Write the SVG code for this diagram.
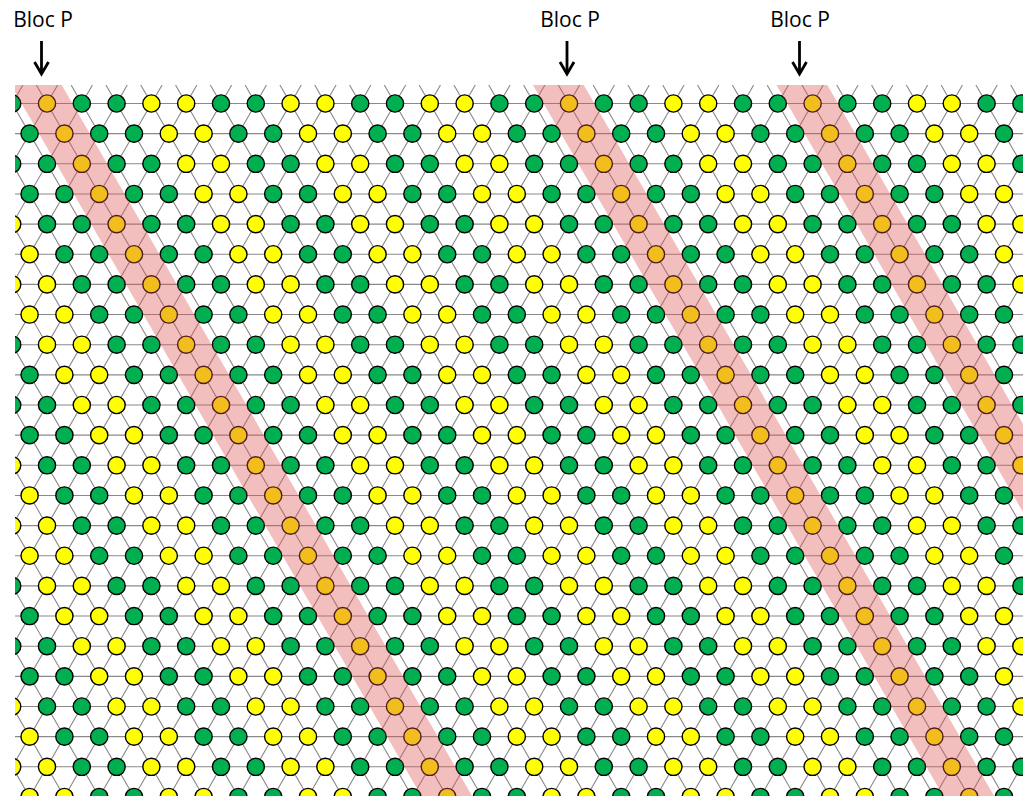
<svg xmlns="http://www.w3.org/2000/svg" width="1023" height="796" viewBox="0 0 1023 796">
<style>
.grid{fill:none;stroke:#8a8a8a;stroke-width:1.1}
.g{fill:#00B050}
.y{fill:#FFFF00}
.band{fill:none;stroke:#DC5050;stroke-opacity:0.37;stroke-width:44}
.lbl{font-family:"Open Sans","Liberation Sans",Arial,sans-serif;font-size:21px;fill:#000;text-anchor:middle}
.arr{stroke:#000;stroke-width:2.8;fill:none}
</style>
<defs>
<clipPath id="clip"><rect x="15" y="85" width="1008" height="711"/></clipPath>
<marker id="head" markerUnits="userSpaceOnUse" markerWidth="20" markerHeight="20" viewBox="0 0 20 20" refX="13" refY="10" orient="auto" overflow="visible">
<path d="M1,3 L13,10 L1,17" fill="none" stroke="#000" stroke-width="2.8" stroke-linejoin="miter"/>
</marker>
<g id="col" stroke="#000" stroke-width="1.4">
<circle cx="0" cy="0" r="8.6"/><circle cx="17.4" cy="30.15" r="8.6"/><circle cx="34.8" cy="60.3" r="8.6"/><circle cx="52.2" cy="90.45" r="8.6"/>
<circle cx="69.6" cy="120.6" r="8.6"/><circle cx="87" cy="150.75" r="8.6"/><circle cx="104.4" cy="180.9" r="8.6"/><circle cx="121.8" cy="211.05" r="8.6"/>
<circle cx="139.2" cy="241.2" r="8.6"/><circle cx="156.6" cy="271.35" r="8.6"/><circle cx="174" cy="301.5" r="8.6"/><circle cx="191.4" cy="331.65" r="8.6"/>
<circle cx="208.8" cy="361.8" r="8.6"/><circle cx="226.2" cy="391.95" r="8.6"/><circle cx="243.6" cy="422.1" r="8.6"/><circle cx="261" cy="452.25" r="8.6"/>
<circle cx="278.4" cy="482.4" r="8.6"/><circle cx="295.8" cy="512.55" r="8.6"/><circle cx="313.2" cy="542.7" r="8.6"/><circle cx="330.6" cy="572.85" r="8.6"/>
<circle cx="348" cy="603" r="8.6"/><circle cx="365.4" cy="633.15" r="8.6"/><circle cx="382.8" cy="663.3" r="8.6"/><circle cx="400.2" cy="693.45" r="8.6"/>
</g>
</defs>
<rect width="1023" height="796" fill="#fff"/>
<g id="lattice" clip-path="url(#clip)">
<g id="connectors">
<path class="grid" d="M15,103.5 h1008 m-1008,30.15 h1008 m-1008,30.15 h1008 m-1008,30.15 h1008 m-1008,30.15 h1008 m-1008,30.15 h1008 m-1008,30.15 h1008 m-1008,30.15 h1008 m-1008,30.15 h1008 m-1008,30.15 h1008 m-1008,30.15 h1008 m-1008,30.15 h1008 m-1008,30.15 h1008 m-1008,30.15 h1008 m-1008,30.15 h1008 m-1008,30.15 h1008 m-1008,30.15 h1008 m-1008,30.15 h1008 m-1008,30.15 h1008 m-1008,30.15 h1008 m-1008,30.15 h1008 m-1008,30.15 h1008 m-1008,30.15 h1008"/>
<path class="grid" d="M-381.28,85 l410.33,711 m-375.53,-711 l410.33,711 m-375.53,-711 l410.33,711 m-375.53,-711 l410.33,711 m-375.53,-711 l410.33,711 m-375.53,-711 l410.33,711 m-375.53,-711 l410.33,711 m-375.53,-711 l410.33,711 m-375.53,-711 l410.33,711 m-375.53,-711 l410.33,711 m-375.53,-711 l410.33,711 m-375.53,-711 l410.33,711 m-375.53,-711 l410.33,711 m-375.53,-711 l410.33,711 m-375.53,-711 l410.33,711 m-375.53,-711 l410.33,711 m-375.53,-711 l410.33,711 m-375.53,-711 l410.33,711 m-375.53,-711 l410.33,711 m-375.53,-711 l410.33,711 m-375.53,-711 l410.33,711 m-375.53,-711 l410.33,711 m-375.53,-711 l410.33,711 m-375.53,-711 l410.33,711 m-375.53,-711 l410.33,711 m-375.53,-711 l410.33,711 m-375.53,-711 l410.33,711 m-375.53,-711 l410.33,711 m-375.53,-711 l410.33,711 m-375.53,-711 l410.33,711 m-375.53,-711 l410.33,711 m-375.53,-711 l410.33,711 m-375.53,-711 l410.33,711 m-375.53,-711 l410.33,711 m-375.53,-711 l410.33,711 m-375.53,-711 l410.33,711 m-375.53,-711 l410.33,711 m-375.53,-711 l410.33,711 m-375.53,-711 l410.33,711 m-375.53,-711 l410.33,711 m-375.53,-711 l410.33,711"/>
<path class="grid" d="M22.88,85 l-410.33,711 m445.13,-711 l-410.33,711 m445.13,-711 l-410.33,711 m445.13,-711 l-410.33,711 m445.13,-711 l-410.33,711 m445.13,-711 l-410.33,711 m445.13,-711 l-410.33,711 m445.13,-711 l-410.33,711 m445.13,-711 l-410.33,711 m445.13,-711 l-410.33,711 m445.13,-711 l-410.33,711 m445.13,-711 l-410.33,711 m445.13,-711 l-410.33,711 m445.13,-711 l-410.33,711 m445.13,-711 l-410.33,711 m445.13,-711 l-410.33,711 m445.13,-711 l-410.33,711 m445.13,-711 l-410.33,711 m445.13,-711 l-410.33,711 m445.13,-711 l-410.33,711 m445.13,-711 l-410.33,711 m445.13,-711 l-410.33,711 m445.13,-711 l-410.33,711 m445.13,-711 l-410.33,711 m445.13,-711 l-410.33,711 m445.13,-711 l-410.33,711 m445.13,-711 l-410.33,711 m445.13,-711 l-410.33,711 m445.13,-711 l-410.33,711 m445.13,-711 l-410.33,711 m445.13,-711 l-410.33,711 m445.13,-711 l-410.33,711 m445.13,-711 l-410.33,711 m445.13,-711 l-410.33,711 m445.13,-711 l-410.33,711 m445.13,-711 l-410.33,711 m445.13,-711 l-410.33,711 m445.13,-711 l-410.33,711 m445.13,-711 l-410.33,711 m445.13,-711 l-410.33,711 m445.13,-711 l-410.33,711"/>
</g>
<g id="atoms" transform="translate(0,103.5)">
<use href="#col" class="y" x="-370.6"/><use href="#col" class="y" x="-335.8"/>
<use href="#col" class="g" x="-301"/><use href="#col" class="g" x="-266.2"/>
<use href="#col" class="y" x="-231.4"/><use href="#col" class="y" x="-196.6"/>
<use href="#col" class="g" x="-161.8"/><use href="#col" class="g" x="-127"/>
<use href="#col" class="y" x="-92.2"/><use href="#col" class="y" x="-57.4"/>
<use href="#col" class="g" x="-22.6"/><use href="#col" class="g" x="12.2"/>
<use href="#col" class="y" x="47"/>
<use href="#col" class="g" x="81.8"/><use href="#col" class="g" x="116.6"/>
<use href="#col" class="y" x="151.4"/><use href="#col" class="y" x="186.2"/>
<use href="#col" class="g" x="221"/><use href="#col" class="g" x="255.8"/>
<use href="#col" class="y" x="290.6"/><use href="#col" class="y" x="325.4"/>
<use href="#col" class="g" x="360.2"/><use href="#col" class="g" x="395"/>
<use href="#col" class="y" x="429.8"/><use href="#col" class="y" x="464.6"/>
<use href="#col" class="g" x="499.4"/><use href="#col" class="g" x="534.2"/>
<use href="#col" class="y" x="569"/>
<use href="#col" class="g" x="603.8"/><use href="#col" class="g" x="638.6"/>
<use href="#col" class="y" x="673.4"/><use href="#col" class="y" x="708.2"/>
<use href="#col" class="g" x="743"/><use href="#col" class="g" x="777.8"/>
<use href="#col" class="y" x="812.6"/>
<use href="#col" class="g" x="847.4"/><use href="#col" class="g" x="882.2"/>
<use href="#col" class="y" x="917"/><use href="#col" class="y" x="951.8"/>
<use href="#col" class="g" x="986.6"/><use href="#col" class="g" x="1021.4"/>
</g>
<g id="bands">
<line class="band" x1="21.9" y1="60" x2="466.3" y2="830"/>
<line class="band" x1="543.9" y1="60" x2="988.3" y2="830"/>
<line class="band" x1="787.5" y1="60" x2="1231.9" y2="830"/>
</g>
</g>
<g id="label1">
<text class="lbl" x="43" y="26.5">Bloc P</text>
<line class="arr" x1="41.5" y1="41" x2="41.5" y2="74" marker-end="url(#head)"/>
</g>
<g id="label2">
<text class="lbl" x="570" y="26.5">Bloc P</text>
<line class="arr" x1="567" y1="41" x2="567" y2="74" marker-end="url(#head)"/>
</g>
<g id="label3">
<text class="lbl" x="800" y="26.5">Bloc P</text>
<line class="arr" x1="799.5" y1="41" x2="799.5" y2="74" marker-end="url(#head)"/>
</g>
</svg>
